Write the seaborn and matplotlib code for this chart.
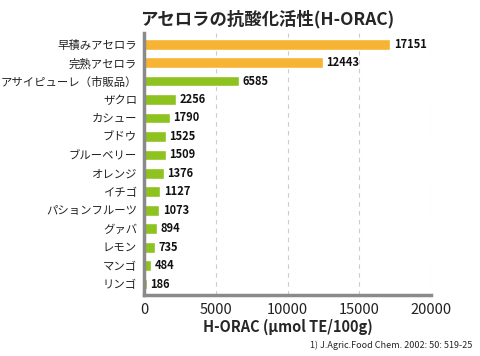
import matplotlib
matplotlib.use("Agg")
import matplotlib.pyplot as plt
import seaborn as sns
import pandas as pd

# data
fruits = ['早積みアセロラ', '完熟アセロラ', 'アサイピューレ（市販品）', 'ザクロ', 'カシュー', 'ブドウ',
          'ブルーベリー', 'オレンジ', 'イチゴ', 'パションフルーツ', 'グァバ', 'レモン', 'マンゴ', 'リンゴ']
orac = [17151, 12443, 6585, 2256, 1790, 1525, 1509, 1376, 1127, 1073, 894, 735, 484, 186]
group = ['acerola', 'acerola'] + ['other'] * 12

df = pd.DataFrame({'fruit': fruits, 'orac': orac, 'group': group})

sns.set_style('white')
plt.rcParams['font.family'] = ['Noto Sans CJK JP', 'DejaVu Sans']

fig = plt.figure(figsize=(4.8, 3.56), dpi=100)
ax = fig.add_axes([0.30, 0.171, 0.598, 0.736])

palette = {'acerola': '#F7B334', 'other': '#8DC21F'}
sns.barplot(data=df, x='orac', y='fruit', hue='group', palette=palette,
            dodge=False, width=0.58, saturation=1, legend=False, ax=ax)

ax.set_xlim(0, 20000)
ax.set_xticks([0, 5000, 10000, 15000, 20000])
ax.set_ylim(13.6, -0.6)
ax.xaxis.grid(True, linestyle=(0, (4, 4)), color='#cccccc', linewidth=0.8)
ax.set_axisbelow(True)

for s in ['top', 'right']:
    ax.spines[s].set_visible(False)
for s in ['left', 'bottom']:
    ax.spines[s].set_color('#8a8a8a')
    ax.spines[s].set_linewidth(2.5)

ax.tick_params(axis='y', length=0, labelsize=8.2, colors='#222222', pad=5)
ax.tick_params(axis='x', length=0, pad=6, labelsize=10.5, colors='#222222')

for i, v in enumerate(orac):
    ax.text(v + 250, i, str(v), va='center', ha='left', fontsize=8,
            fontweight='bold', color='#111111')

ax.set_ylabel('')
ax.set_xlabel('H-ORAC (μmol TE/100g)', fontsize=10.5, fontweight='bold', labelpad=1)

fig.text(0.556, 0.945, 'アセロラの抗酸化活性(H-ORAC)', ha='center', va='center',
         fontsize=12.5, fontweight='bold')
fig.text(0.985, 0.03, '1) J.Agric.Food Chem. 2002: 50: 519-25', ha='right',
         va='center', fontsize=6.5)

fig.savefig('out.png', dpi=100)
